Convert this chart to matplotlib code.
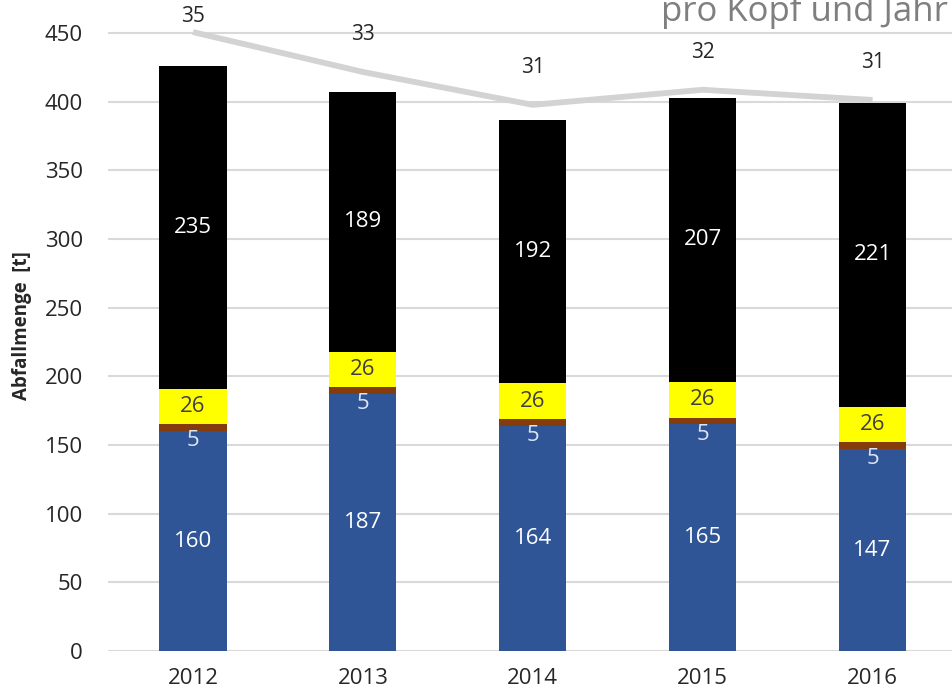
import matplotlib
matplotlib.use("Agg")
import matplotlib.pyplot as plt
import numpy as np

years = ["2012", "2013", "2014", "2015", "2016"]
blue_vals = [160, 187, 164, 165, 147]
brown_vals = [5, 5, 5, 5, 5]
yellow_vals = [26, 26, 26, 26, 26]
black_vals = [235, 189, 192, 207, 221]
per_capita = [35.05, 32.86, 31.05, 31.88, 31.32]
per_capita_labels = ["35", "33", "31", "32", "31"]
yticks = [0, 50, 100, 150, 200, 250, 300, 350, 400, 450]

plt.rcParams['font.family'] = ['Open Sans', 'DejaVu Sans']

W, H = 952, 697
fig = plt.figure(figsize=(W / 100, H / 100), dpi=100)
left_px, right_px, bottom_px, top_px = 108, 957.5, 651, 0
ax = fig.add_axes([left_px / W, (H - bottom_px) / H, (right_px - left_px) / W, (bottom_px - top_px) / H])

x = np.arange(len(years))
width = 0.395
blue_c = "#2f5597"
brown_c = "#843c0c"
yellow_c = "#ffff00"
black_c = "#000000"

b1 = np.array(blue_vals)
b2 = b1 + np.array(brown_vals)
b3 = b2 + np.array(yellow_vals)

ax.bar(x, blue_vals, width, color=blue_c, zorder=2)
ax.bar(x, brown_vals, width, bottom=b1, color=brown_c, zorder=2)
ax.bar(x, yellow_vals, width, bottom=b2, color=yellow_c, zorder=2)
ax.bar(x, black_vals, width, bottom=b3, color=black_c, zorder=2)

fs = 16
for i in range(len(years)):
    ax.text(x[i], blue_vals[i] / 2, str(blue_vals[i]), ha='center', va='center', color='white', fontsize=fs, zorder=5)
    ax.text(x[i], b1[i] - 7, str(brown_vals[i]), ha='center', va='center', color='#dde6f5', fontsize=fs, zorder=5)
    ax.text(x[i], b2[i] + yellow_vals[i] / 2, str(yellow_vals[i]), ha='center', va='center', color='#404040', fontsize=fs, zorder=5)
    ax.text(x[i], b3[i] + black_vals[i] / 2, str(black_vals[i]), ha='center', va='center', color='white', fontsize=fs, zorder=5)

ymax = bottom_px / ((651 - 33) / 450)
ax.set_ylim(0, ymax)
ax.set_xlim(-0.5, 4.5)
ax.set_yticks(yticks)
ax.set_xticks(x)
ax.set_xticklabels(years)
ax.tick_params(axis='both', length=0, labelsize=16, colors='#262626')
ax.tick_params(axis='y', pad=18)
ax.tick_params(axis='x', pad=12)
ax.grid(axis='y', color='#d9d9d9', linewidth=1.5, zorder=0)
ax.set_axisbelow(True)
for s in ax.spines.values():
    s.set_visible(False)
ax.set_ylabel("Abfallmenge  [t]", fontsize=13.5, fontweight='bold', color='#262626', labelpad=9)

# secondary axis for per-capita line
ax2 = ax.twinx()
ax2.set_position(ax.get_position())
scale = 13.25
v0 = 31 - 397 / scale
ax2.set_ylim(v0, v0 + ymax / scale)
ax2.plot(x, per_capita, color='#d3d3d3', linewidth=4.2, zorder=3, solid_capstyle='butt')
ax2.set_yticks([])
for s in ax2.spines.values():
    s.set_visible(False)
offsets = [11, 27, 27, 27, 27]
for i in range(len(years)):
    ax2.annotate(per_capita_labels[i], (x[i], per_capita[i]), xytext=(0, offsets[i]),
                 textcoords='offset points', ha='center', va='center', fontsize=15, color='#262626')

fig.text(948 / W, 1 - 21 / H, "pro Kopf und Jahr", ha='right', va='baseline', fontsize=25, color='#7f7f7f')

fig.savefig("out.png", dpi=100)
